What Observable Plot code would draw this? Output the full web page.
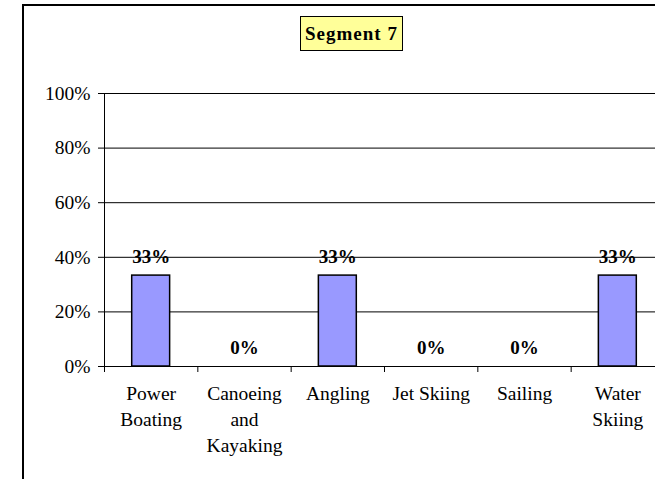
<!DOCTYPE html>
<html><head><meta charset="utf-8">
<script src="https://cdn.jsdelivr.net/npm/d3@7"></script>
<script src="https://cdn.jsdelivr.net/npm/@observablehq/plot@0.6"></script>
<style>
html,body{margin:0;padding:0;overflow:hidden;background:#fff;width:655px;height:479px}
#wrap{position:relative;width:655px;height:479px;overflow:hidden}
#frame{position:absolute;left:22px;top:4px;width:700px;height:600px;border:2px solid #000;box-sizing:border-box}
#title{position:absolute;left:300px;top:16px;width:103px;height:35px;background:#ffff99;border:1px solid #000;box-sizing:border-box;font:bold 19px "Liberation Serif";display:flex;align-items:center;justify-content:center;letter-spacing:1px}
#chart{position:absolute;left:0;top:0;width:680px}
</style></head><body>
<div id="wrap"><div id="frame"></div><div id="chart"></div><div id="title">Segment 7</div></div>
<script>
const categories = ["Power Boating","Canoeing and Kayaking","Angling","Jet Skiing","Sailing","Water Skiing"];
const categoryLabels = ["Power\nBoating","Canoeing\nand\nKayaking","Angling","Jet Skiing","Sailing","Water\nSkiing"];
const values = [0.333, 0, 0.333, 0, 0, 0.333];
const valueLabels = ["33%","0%","33%","0%","0%","33%"];
const yTicks = [0, 0.2, 0.4, 0.6, 0.8, 1];
const yTickLabels = ["0%","20%","40%","60%","80%","100%"];

const data = categories.map((c, i) => ({cat: c, idx: i, label: categoryLabels[i], value: values[i], vlabel: valueLabels[i]}));
const boundaries = d3.range(categories.length + 1);

const chart = Plot.plot({
  width: 680,
  height: 479,
  marginLeft: 104,
  marginRight: 16,
  marginTop: 93,
  marginBottom: 113,
  style: {fontFamily: "Liberation Serif", fontSize: "19.5px", color: "#000", background: "transparent", overflow: "visible", maxWidth: "none"},
  x: {type: "linear", domain: [0, categories.length], axis: null},
  y: {domain: [0, 1], axis: null},
  marks: [
    Plot.ruleY(yTicks, {stroke: "#000", strokeWidth: 1}),
    Plot.ruleX([0], {y1: 0, y2: 1, stroke: "#000", strokeWidth: 1}),
    Plot.axisY(yTicks, {label: null, tickSize: 6, tickPadding: 8, fontSize: 19.5, tickFormat: d => yTickLabels[yTicks.indexOf(d)]}),
    Plot.axisX(boundaries, {label: null, tickSize: 6, tickFormat: () => ""}),
    Plot.rectY(data.filter(d => d.value > 0), {x1: "idx", x2: d => d.idx + 1, y: "value", insetLeft: 27.7, insetRight: 27.7, fill: "#9999ff", stroke: "#000", strokeWidth: 1.5}),
    Plot.text(data, {x: d => d.idx + 0.5, y: "value", text: "vlabel", dy: -19, fontWeight: "bold", fontSize: 19}),
    Plot.text(data, {x: d => d.idx + 0.5, y: 0, text: "label", lineAnchor: "top", dy: 15.5, lineHeight: 1.333, fontSize: 19.5})
  ]
});
chart.style.maxWidth = "none";
document.getElementById("chart").appendChild(chart);
</script>
</body></html>
